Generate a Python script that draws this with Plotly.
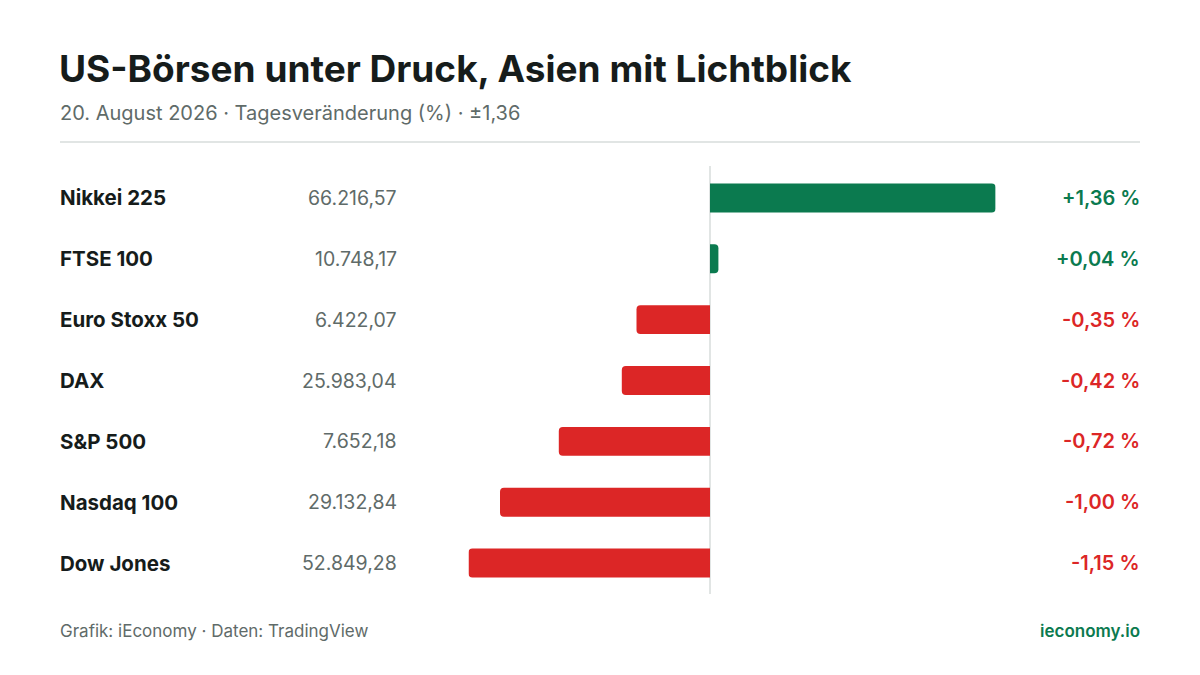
import plotly.graph_objects as go

# data (top row first)
names = ["Nikkei 225", "FTSE 100", "Euro Stoxx 50", "DAX", "S&P 500", "Nasdaq 100", "Dow Jones"]
levels = ["66.216,57", "10.748,17", "6.422,07", "25.983,04", "7.652,18", "29.132,84", "52.849,28"]
changes = [1.36, 0.04, -0.35, -0.42, -0.72, -1.00, -1.15]

GREEN = "#0b7a4f"
RED = "#dc2626"
DARK = "#161c1b"
GRAY = "#5f6b69"
RULE = "#e1e5e4"
FONT = "Inter, Roboto, sans-serif"

W, H = 1200, 675
colors = [GREEN if c >= 0 else RED for c in changes]

fig = go.Figure(go.Bar(
    x=changes,
    y=names,
    orientation="h",
    marker=dict(color=colors, line=dict(width=0)),
    width=0.475,
    hoverinfo="skip",
))

# axis placement: 210 px per percentage point, zero at x=710
x_lo, x_hi = min(changes), max(changes)
px_per = 210
x0 = 710
dom_l = (x0 + x_lo * px_per) / W
dom_r = (x0 + x_hi * px_per) / W
y_top, y_bot = 167.5, 593.5

fig.update_layout(
    width=W, height=H,
    margin=dict(l=0, r=0, t=0, b=0),
    paper_bgcolor="white", plot_bgcolor="white",
    showlegend=False,
    barcornerradius=4,
    font=dict(family=FONT, color=DARK),
    xaxis=dict(domain=[dom_l, dom_r], range=[x_lo, x_hi], visible=False, fixedrange=True),
    yaxis=dict(domain=[1 - y_bot / H, 1 - y_top / H], range=[len(names) - 0.5, -0.5],
               visible=False, fixedrange=True, categoryorder="array", categoryarray=names),
)

# zero line
fig.add_shape(type="line", xref="x", yref="paper", x0=0, x1=0,
              y0=1 - 594 / H, y1=1 - 166 / H, line=dict(color=RULE, width=2), layer="below")
# rule under subtitle
fig.add_shape(type="line", xref="paper", yref="paper", x0=60 / W, x1=1140 / W,
              y0=1 - 142 / H, y1=1 - 142 / H, line=dict(color=RULE, width=2))

ann = []
for n, lv, c, col in zip(names, levels, changes, colors):
    ann.append(dict(x=58 / W, y=n, xref="paper", yref="y", text=n,
                    xanchor="left", yanchor="middle", showarrow=False,
                    font=dict(size=20.5, color=DARK, family=FONT, weight=700)))
    ann.append(dict(x=399 / W, y=n, xref="paper", yref="y", text=lv,
                    xanchor="right", yanchor="middle", showarrow=False,
                    font=dict(size=19.5, color=GRAY, family=FONT)))
    pct = ("+" if c >= 0 else "-") + ("%.2f" % abs(c)).replace(".", ",") + " %"
    ann.append(dict(x=1142 / W, y=n, xref="paper", yref="y", text=pct,
                    xanchor="right", yanchor="middle", showarrow=False,
                    font=dict(size=20, color=col, family=FONT, weight=600)))

ann += [
    dict(x=57 / W, y=1 - 68 / H, xref="paper", yref="paper", xanchor="left", yanchor="middle",
         text="US-Börsen unter Druck, Asien mit Lichtblick", showarrow=False,
         font=dict(size=37, color=DARK, family=FONT, weight=700)),
    dict(x=58 / W, y=1 - 113 / H, xref="paper", yref="paper", xanchor="left", yanchor="middle",
         text="20. August 2026 · Tagesveränderung (%) · ±1,36", showarrow=False,
         font=dict(size=20, color=GRAY, family=FONT)),
    dict(x=58 / W, y=1 - 631 / H, xref="paper", yref="paper", xanchor="left", yanchor="middle",
         text="Grafik: iEconomy · Daten: TradingView", showarrow=False,
         font=dict(size=17, color=GRAY, family=FONT)),
    dict(x=1142 / W, y=1 - 631 / H, xref="paper", yref="paper", xanchor="right", yanchor="middle",
         text="ieconomy.io", showarrow=False,
         font=dict(size=17, color=GREEN, family=FONT, weight=600)),
]
fig.update_layout(annotations=ann)

fig.write_html("out.html", config={"displayModeBar": False},
               post_script="document.body.style.margin='0';")
